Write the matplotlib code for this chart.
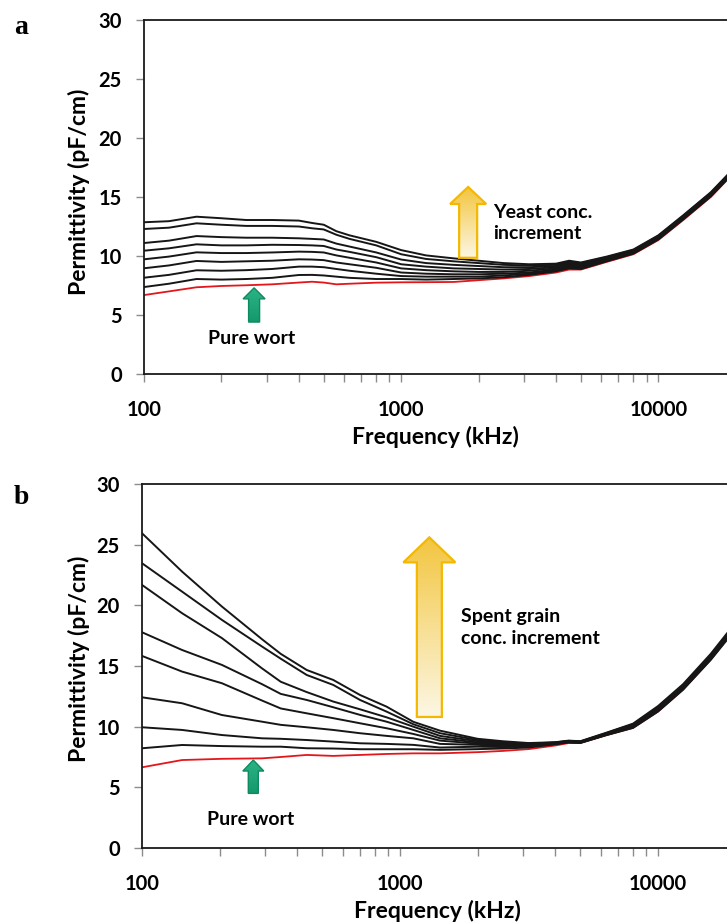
import numpy as np
import matplotlib
matplotlib.use("Agg")
import matplotlib.pyplot as plt
from matplotlib.patches import Polygon
from matplotlib.colors import to_rgb
from matplotlib.ticker import FixedLocator, LogLocator, NullFormatter

# ---- data: permittivity (pF/cm) vs frequency (kHz) ----
freq_a = [100, 125, 160, 200, 250, 315, 400, 450, 500, 560, 630, 800, 1000, 1250,
          1600, 2000, 2500, 3150, 4000, 4500, 5000, 6300, 8000, 10000, 12500, 16000, 20000]

# yeast additions, highest concentration first
yeast_eps = [
    [12.86, 12.95, 13.33, 13.2, 13.05, 13.05, 13.0, 12.8, 12.65, 12.1, 11.75, 11.2, 10.5, 10.05,
     9.8, 9.6, 9.4, 9.3, 9.35, 9.6, 9.45, 9.95, 10.55, 11.75, 13.45, 15.4, 17.6],
    [12.29, 12.4, 12.77, 12.65, 12.55, 12.55, 12.5, 12.35, 12.25, 11.8, 11.45, 10.9, 10.15, 9.75,
     9.55, 9.4, 9.25, 9.2, 9.25, 9.5, 9.4, 9.9, 10.5, 11.7, 13.4, 15.35, 17.55],
    [11.10, 11.3, 11.69, 11.6, 11.55, 11.55, 11.5, 11.45, 11.4, 11.05, 10.8, 10.3, 9.7, 9.4,
     9.25, 9.15, 9.05, 9.05, 9.15, 9.4, 9.3, 9.8, 10.45, 11.65, 13.35, 15.3, 17.5],
    [10.45, 10.65, 10.99, 10.9, 10.9, 10.95, 10.93, 10.9, 10.85, 10.55, 10.35, 9.9, 9.3, 9.1,
     8.95, 8.9, 8.85, 8.9, 9.05, 9.3, 9.2, 9.75, 10.4, 11.6, 13.3, 15.25, 17.45],
    [9.72, 9.95, 10.31, 10.25, 10.25, 10.3, 10.37, 10.35, 10.3, 10.05, 9.85, 9.45, 8.95, 8.8,
     8.7, 8.65, 8.65, 8.75, 8.95, 9.2, 9.1, 9.7, 10.35, 11.55, 13.25, 15.2, 17.4],
    [8.96, 9.2, 9.58, 9.5, 9.55, 9.6, 9.72, 9.7, 9.65, 9.45, 9.3, 9.0, 8.6, 8.5,
     8.45, 8.45, 8.5, 8.6, 8.85, 9.1, 9.05, 9.65, 10.3, 11.5, 13.2, 15.15, 17.35],
    [8.16, 8.4, 8.79, 8.75, 8.8, 8.9, 9.1, 9.1, 9.05, 8.9, 8.75, 8.5, 8.3, 8.25,
     8.25, 8.25, 8.35, 8.5, 8.8, 9.05, 9.0, 9.6, 10.25, 11.45, 13.15, 15.1, 17.3],
    [7.37, 7.65, 8.05, 8.0, 8.05, 8.15, 8.39, 8.4, 8.35, 8.25, 8.15, 8.05, 8.05, 8.0,
     8.05, 8.1, 8.2, 8.4, 8.7, 8.95, 8.9, 9.55, 10.2, 11.4, 13.1, 15.05, 17.25],
]
wort_a = [6.69, 7.0, 7.35, 7.46, 7.52, 7.6, 7.75, 7.82, 7.75, 7.6, 7.65, 7.74, 7.77, 7.78,
          7.8, 7.95, 8.1, 8.3, 8.6, 8.85, 8.85, 9.5, 10.15, 11.35, 13.05, 15.0, 17.2]

freq_b = [100, 143, 204, 292, 345, 435, 551, 700, 887, 1126, 1429, 2000, 2500, 3150,
          4000, 4500, 5000, 6300, 8000, 10000, 12500, 16000, 20000]

# spent grain additions, highest concentration first
grain_eps = [
    [25.94, 22.78, 19.9, 17.2, 16.0, 14.67, 13.85, 12.61, 11.65, 10.4, 9.67, 9.0, 8.8, 8.65,
     8.72, 8.85, 8.8, 9.5, 10.25, 11.7, 13.5, 16.0, 18.6],
    [23.47, 21.13, 18.8, 16.6, 15.6, 14.26, 13.44, 12.2, 11.24, 10.2, 9.46, 8.9, 8.72, 8.6,
     8.7, 8.83, 8.78, 9.47, 10.2, 11.62, 13.42, 15.9, 18.5],
    [21.68, 19.35, 17.3, 14.8, 13.7, 12.85, 12.07, 11.43, 10.77, 10.0, 9.24, 8.8, 8.65, 8.55,
     8.68, 8.8, 8.76, 9.44, 10.15, 11.55, 13.35, 15.82, 18.4],
    [17.78, 16.32, 15.09, 13.5, 12.7, 12.2, 11.6, 10.97, 10.41, 9.73, 9.04, 8.7, 8.58, 8.5,
     8.65, 8.78, 8.74, 9.41, 10.1, 11.48, 13.28, 15.75, 18.32],
    [15.83, 14.54, 13.58, 12.15, 11.5, 11.1, 10.7, 10.28, 9.87, 9.4, 8.85, 8.6, 8.5, 8.45,
     8.62, 8.76, 8.72, 9.38, 10.05, 11.42, 13.22, 15.68, 18.25],
    [12.42, 11.93, 10.96, 10.41, 10.15, 9.95, 9.73, 9.46, 9.24, 9.04, 8.58, 8.5, 8.42, 8.4,
     8.6, 8.74, 8.7, 9.35, 10.0, 11.36, 13.16, 15.62, 18.2],
    [9.95, 9.73, 9.31, 9.04, 9.0, 8.9, 8.77, 8.63, 8.58, 8.5, 8.28, 8.35, 8.32, 8.35,
     8.58, 8.72, 8.68, 9.32, 9.95, 11.3, 13.1, 15.56, 18.12],
    [8.22, 8.49, 8.4, 8.35, 8.35, 8.22, 8.2, 8.14, 8.14, 8.14, 8.09, 8.15, 8.2, 8.28,
     8.55, 8.7, 8.66, 9.3, 9.9, 11.25, 13.05, 15.5, 18.05],
]
wort_b = [6.65, 7.25, 7.35, 7.39, 7.5, 7.67, 7.59, 7.67, 7.75, 7.8, 7.8, 7.9, 8.0, 8.15,
          8.45, 8.65, 8.65, 9.3, 9.9, 11.25, 13.05, 15.55, 18.15]

y_ticks = [0, 5, 10, 15, 20, 25, 30]
x_ticks = [100, 1000, 10000]

FONT = "Lato"
plt.rcParams["font.family"] = [FONT, "DejaVu Sans"]


def block_arrow(ax, f, y0, y1, body, head, head_len, c_top, c_bot, edge, lw):
    # arrow centred on frequency f, from y0 (base) to y1 (tip); widths in pixels
    xc, yb = ax.transData.transform((f, y0))
    _, yt = ax.transData.transform((f, y1))
    yh = yt - head_len
    pts = [(xc - body / 2, yb), (xc + body / 2, yb), (xc + body / 2, yh),
           (xc + head / 2, yh), (xc, yt), (xc - head / 2, yh), (xc - body / 2, yh)]
    pts = ax.transAxes.inverted().transform(pts)
    poly = Polygon(pts, closed=True, transform=ax.transAxes, fc="none",
                   ec=edge, lw=lw, zorder=6)
    ax.add_patch(poly)
    ct, cb = np.array(to_rgb(c_top)), np.array(to_rgb(c_bot))
    t = np.linspace(0, 1, 64)[:, None]
    grad = (ct * (1 - t) + cb * t)[:, None, :]
    x0, x1 = pts[:, 0].min(), pts[:, 0].max()
    ya, yb2 = pts[:, 1].min(), pts[:, 1].max()
    xl, yl = ax.get_xlim(), ax.get_ylim()
    ax.set_autoscale_on(False)
    im = ax.imshow(grad, extent=[x0, x1, ya, yb2], transform=ax.transAxes,
                   aspect="auto", origin="upper", zorder=5, interpolation="bilinear")
    im.set_clip_path(poly)
    ax.set_xlim(xl)
    ax.set_ylim(yl)


def style_axes(ax):
    ax.set_xscale("log")
    ax.set_xlim(100, 18500)
    ax.set_ylim(0, 30)
    ax.xaxis.set_major_locator(FixedLocator(x_ticks))
    ax.xaxis.set_minor_locator(LogLocator(base=10, subs=np.arange(2, 10)))
    ax.xaxis.set_minor_formatter(NullFormatter())
    ax.set_xticklabels([str(v) for v in x_ticks])
    ax.set_yticks(y_ticks)
    ax.tick_params(which="both", direction="out", length=6, width=1, color="#8c8c8c")
    ax.tick_params(axis="x", which="major", pad=13)
    ax.tick_params(axis="y", which="major", pad=10)
    for lab in ax.get_xticklabels() + ax.get_yticklabels():
        lab.set_fontsize(14.5)
        lab.set_fontweight("bold")
    for s in ["left", "bottom", "top"]:
        ax.spines[s].set_color("#1a1a1a")
        ax.spines[s].set_linewidth(1.3)
    ax.spines["right"].set_visible(False)
    ax.set_xlabel("Frequency (kHz)", fontsize=16.5, fontweight="bold")
    ax.set_ylabel("Permittivity (pF/cm)", fontsize=16.5, fontweight="bold")


fig = plt.figure(figsize=(7.27, 9.23), dpi=100)
ax_a = fig.add_axes([144 / 727, 549 / 923, 583 / 727, 354 / 923])
ax_b = fig.add_axes([142 / 727, 75 / 923, 585 / 727, 364 / 923])

for ax, freq, curves, wort in [(ax_a, freq_a, yeast_eps, wort_a),
                               (ax_b, freq_b, grain_eps, wort_b)]:
    style_axes(ax)
    for c in curves:
        ax.plot(freq, c, color="#161616", lw=1.4, zorder=3)
    ax.plot(freq, wort, color="#e3161b", lw=1.3, zorder=2)

ax_a.xaxis.set_label_coords(0.5, -0.148)
ax_a.yaxis.set_label_coords(-0.092, 0.515)
ax_b.xaxis.set_label_coords(0.505, -0.142)
ax_b.yaxis.set_label_coords(-0.089, 0.52)

# annotations
block_arrow(ax_a, 268, 4.4, 7.3, 11, 22, 11, "#2bb487", "#14996c", "#0f8a60", 1.0)
block_arrow(ax_b, 270, 4.5, 7.25, 10, 21, 11, "#2bb487", "#14996c", "#0f8a60", 1.0)
block_arrow(ax_a, 1822, 9.85, 15.85, 18, 36, 17, "#f3c640", "#fcf7e4", "#f4b800", 1.6)
block_arrow(ax_b, 1299, 10.8, 25.6, 25, 52, 25, "#f3c640", "#fcf7e4", "#f4b800", 1.6)

ax_a.text(262, 3.05, "Pure wort", fontsize=14, fontweight="bold", ha="center", va="center")
ax_b.text(264, 2.37, "Pure wort", fontsize=14, fontweight="bold", ha="center", va="center")
ax_a.text(2280, 12.8, "Yeast conc.\nincrement", fontsize=14, fontweight="bold",
          ha="left", va="center", linespacing=1.35)
ax_b.text(1723, 18.2, "Spent grain\nconc. increment", fontsize=14, fontweight="bold",
          ha="left", va="center", linespacing=1.35)

fig.text(21 / 727, 1 - 28 / 923, "a", family=["Liberation Serif", "DejaVu Serif"],
         fontsize=20, fontweight="bold", ha="center", va="center")
fig.text(21 / 727, 1 - 497 / 923, "b", family=["Liberation Serif", "DejaVu Serif"],
         fontsize=20, fontweight="bold", ha="center", va="center")

fig.savefig("out.png", dpi=100)
